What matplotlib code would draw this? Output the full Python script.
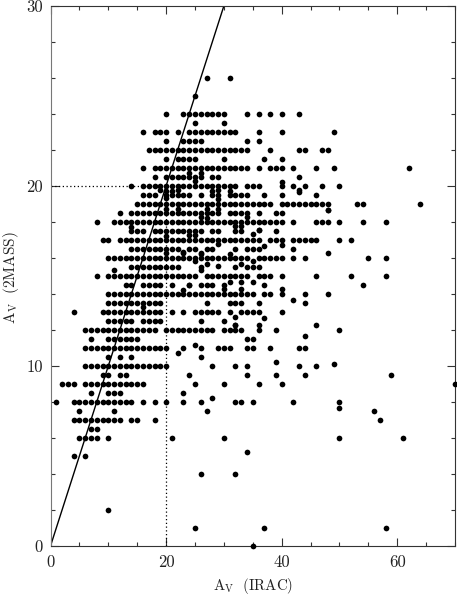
import matplotlib
matplotlib.use("Agg")
import matplotlib.pyplot as plt
from matplotlib.ticker import MultipleLocator

plt.rcParams['mathtext.fontset'] = 'cm'
plt.rcParams['font.family'] = ['cmr10', 'DejaVu Serif']
plt.rcParams['axes.formatter.use_mathtext'] = True

r26 = [27, 31]
r25 = [25]
r24 = [20, 23, 24, 25, 26, 27, 28, 29, 30, 34, 36, 38, 40, 43]
r23_5 = [25, 30]
r23 = [16, 18, 19, 20, 22, 24, 25, 26, 27, 28, 29, 30, 31, 32, 36, 40, 49]
r22_5 = [20, 23, 24, 25, 26, 34, 36]
r22 = [17, 18, 19, 20, 21, 22, 23, 24, 25, 26, 27, 28, 29, 30, 31, 32, 33, 34, 38, 43, 44, 47, 48]
r21_5 = [20, 22, 23, 24, 25, 30, 37, 40]
r21 = [16, 18, 19, 20, 21, 22, 23, 24, 25, 26, 27, 28, 29, 30, 31, 32, 33, 34, 36, 38, 39, 40, 42, 46, 49, 62]
r20_5 = [18, 20, 21, 22, 23, 24, 25, 26, 28, 29, 43]
r20 = [14, 16, 17, 18, 19, 20, 21, 22, 23, 24, 25, 26, 27, 28, 29, 30, 31, 32, 34, 35, 36, 40, 42, 44, 47, 50]
r19_5 = [16, 17, 18, 20, 21, 22, 23, 24, 26, 28, 29, 31, 32, 33, 34, 37, 40, 46]
r19 = [15, 16, 17, 18, 19, 20, 21, 22, 23, 24, 25, 26, 27, 28, 29, 30, 31, 32, 33, 34, 35, 36, 37, 38,
       40, 41, 42, 43, 44, 45, 46, 47, 48, 53, 54, 64]
r18_5 = [12, 14, 15, 16, 17, 18, 19, 20, 21, 22, 23, 24, 25, 26, 27, 28, 29, 31, 32, 33, 34, 36, 39, 40]
r18 = [8, 11, 12, 13, 14, 15, 16, 17, 18, 19, 20, 21, 22, 23, 24, 25, 26, 27, 28, 29, 30, 31, 32, 33, 34,
       35, 36, 37, 38, 39, 40, 42, 46, 47, 48, 50, 54, 58]
r17_5 = [14, 15, 16, 18, 19, 20, 21, 22, 23, 24, 25, 26, 28, 29, 32, 33, 39]
r17 = [9, 10, 12, 13, 14, 15, 16, 17, 18, 19, 20, 21, 22, 23, 24, 25, 26, 27, 28, 29, 30, 31, 32, 33, 34,
       35, 36, 38, 39, 40, 42, 43, 44, 45, 46, 50, 52]
r16_5 = [14, 15, 16, 17, 18, 19, 20, 21, 22, 24, 25, 27, 28, 32, 34, 35, 36, 42]
r16 = [10, 11, 12, 13, 14, 15, 16, 17, 18, 19, 20, 21, 22, 23, 24, 25, 26, 27, 28, 29, 30, 31, 32, 33, 34,
       36, 37, 38, 39, 40, 42, 44, 55, 58]
r15_5 = [14, 15, 16, 17, 18, 19, 20, 21, 22, 26, 32, 34, 35, 36]
r15 = [8, 10, 11, 12, 13, 14, 15, 16, 17, 18, 19, 20, 21, 22, 23, 24, 25, 27, 28, 29, 30, 31, 32, 33, 34,
       36, 37, 38, 40, 46, 52, 58]
r14_5 = [13, 14, 16, 17, 18, 19, 21, 24, 26, 27, 28, 30, 37, 54]
r14 = [10, 11, 12, 13, 14, 15, 16, 17, 18, 19, 20, 21, 22, 23, 24, 25, 26, 27, 28, 29, 30, 31, 32, 33, 34,
       35, 37, 38, 40, 44, 48]
r13_5 = [10, 11, 12, 13, 14, 15, 16, 17, 18, 19, 27, 31, 32, 33, 36, 44]
r13 = [4, 9, 10, 11, 12, 13, 14, 15, 16, 17, 18, 19, 21, 23, 25, 26, 27, 28, 29, 31, 33, 34, 35, 36, 40]
r12_5 = [10, 11, 12, 13, 14, 16, 17, 18, 19, 26, 30]
r12 = [6, 7, 8, 9, 10, 11, 12, 13, 14, 15, 16, 17, 18, 20, 21, 22, 23, 24, 25, 26, 27, 28, 30, 31, 32, 33,
       36, 39, 50]
r11_5 = [7, 10, 11, 12, 13, 14, 15, 34, 35]
r11 = [6, 7, 8, 9, 10, 11, 12, 13, 14, 15, 16, 17, 18, 19, 20, 23, 26, 29, 30, 31, 34, 35, 38, 43, 44]
r10_5 = [10, 12, 14, 26]
r10 = [6, 7, 8, 9, 10, 11, 12, 13, 14, 15, 16, 17, 18, 19, 20, 28, 32, 34, 43, 46]
r9_5 = [9, 10, 12, 13, 24, 34, 39, 44, 59]
r9 = [2, 3, 4, 6, 7, 8, 9, 10, 11, 12, 13, 14, 15, 16, 25, 30, 36, 40, 70]
r8_5 = [7, 10, 11, 12, 23]
r8 = [1, 4, 5, 6, 7, 8, 9, 10, 11, 12, 13, 14, 16, 18, 20, 23, 26, 32, 33, 35, 42, 50]
r7_5 = [5, 11, 27, 56]
r7 = [4, 5, 6, 7, 8, 9, 10, 11, 12, 14, 15, 18, 57]
r6_5 = [7, 8]
r6 = [5, 6, 7, 8, 10, 21, 30, 50, 61]
r5 = [4, 6]
r4 = [26, 32]
r2 = [10]
r1 = [25, 37, 58]
r0 = [35]

# points that sit off the half-magnitude rows
off_x = [19, 22, 20, 21, 20, 22, 20, 14, 20, 23, 20, 11, 16, 48, 48, 49, 50, 39, 22, 25, 28, 34, 37, 44,
         42, 40, 32, 32, 36, 46, 30, 33, 31, 33, 35, 24, 25, 26, 26, 27, 28, 29, 29, 31, 35, 36, 24, 25,
         27, 29, 32, 33, 23, 26, 31, 25, 35, 40, 37, 40, 43, 43, 48, 27, 33, 29, 32, 23, 29, 26, 36, 24,
         26, 34]
off_y = [19.8, 19.8, 19.35, 19.7, 19.7, 18.7, 18.7, 17.75, 17.25, 16.35, 16.3, 15.35, 13.3, 18.65, 16.3,
         10.1, 7.65, 10.2, 10.75, 11.15, 8.2, 5.2, 12.65, 11.66, 13.65, 14.3, 12.75, 12.3, 12.3, 12.3,
         14.3, 14.3, 14.65, 14.65, 14.65, 20.7, 20.3, 20.75, 18.3, 18.75, 19.7, 19.8, 19.3, 19.7, 17.35,
         17.55, 17.3, 17.3, 18.2, 18.7, 17.8, 17.8, 16.3, 16.3, 16.25, 15.85, 15.85, 20.25, 16.65, 16.7,
         19.8, 19.65, 18.65, 15.65, 15.65, 15.55, 12.3, 14.25, 16.8, 16.25, 17.55, 14.5, 15.35, 18.3]

rows = [(26, r26), (25, r25), (24, r24), (23.5, r23_5), (23, r23), (22.5, r22_5), (22, r22), (21.5, r21_5),
        (21, r21), (20.5, r20_5), (20, r20), (19.5, r19_5), (19, r19), (18.5, r18_5), (18, r18), (17.5, r17_5),
        (17, r17), (16.5, r16_5), (16, r16), (15.5, r15_5), (15, r15), (14.5, r14_5), (14, r14), (13.5, r13_5),
        (13, r13), (12.5, r12_5), (12, r12), (11.5, r11_5), (11, r11), (10.5, r10_5), (10, r10), (9.5, r9_5),
        (9, r9), (8.5, r8_5), (8, r8), (7.5, r7_5), (7, r7), (6.5, r6_5), (6, r6), (5, r5), (4, r4), (2, r2),
        (1, r1), (0, r0)]

x_ticks = [0, 20, 40, 60]
y_ticks = [0, 10, 20, 30]
line_ends = [0, 30]
limit = [0, 20]

fig = plt.figure(figsize=(4.57, 5.95), dpi=100)
ax = fig.add_axes([50.5 / 457, 1 - 546 / 595, (455 - 50.5) / 457, (546 - 6) / 595])
ax.set_xlim(0, 70)
ax.set_ylim(0, 30)

for yv, xs in rows:
    ax.plot(xs, [yv] * len(xs), 'o', color='k', ms=4.1, mew=0, clip_on=False, zorder=3)
ax.plot(off_x, off_y, 'o', color='k', ms=4.1, mew=0, clip_on=False, zorder=3)

ax.plot(line_ends, line_ends, '-', color='k', lw=1.0, zorder=2)
ax.plot(limit, [20, 20], color='k', lw=0.9, ls=(0, (1, 2)), zorder=2)
ax.plot([20, 20], limit, color='k', lw=0.9, ls=(0, (1, 2)), zorder=2)

ax.set_xticks(x_ticks)
ax.set_xticklabels([str(v) for v in x_ticks])
ax.set_yticks(y_ticks)
ax.set_yticklabels([str(v) for v in y_ticks])
ax.xaxis.set_minor_locator(MultipleLocator(5))
ax.yaxis.set_minor_locator(MultipleLocator(2))
ax.tick_params(which='major', direction='in', length=5.8, width=0.8, top=True, right=True,
               labelsize=12, color='#333333', labelcolor='#222222')
ax.tick_params(axis='x', which='major', pad=6)
ax.tick_params(axis='y', which='major', pad=5.5)
ax.tick_params(which='minor', direction='in', length=2.9, width=0.8, top=True, right=True, color='#333333')
for s in ax.spines.values():
    s.set_linewidth(0.8)
    s.set_color('#333333')
ax.spines['left'].set_color('#777777')

ax.set_xlabel(r'$\mathrm{A_V\ \ (IRAC)}$', fontsize=10.8, color='#222222')
ax.xaxis.set_label_coords(0.5, -0.055)
ax.set_ylabel(r'$\mathrm{A_V\ \ (2MASS)}$', fontsize=11, color='#222222')
ax.yaxis.set_label_coords(-0.072, 0.496)

fig.savefig('out.png', dpi=100)
